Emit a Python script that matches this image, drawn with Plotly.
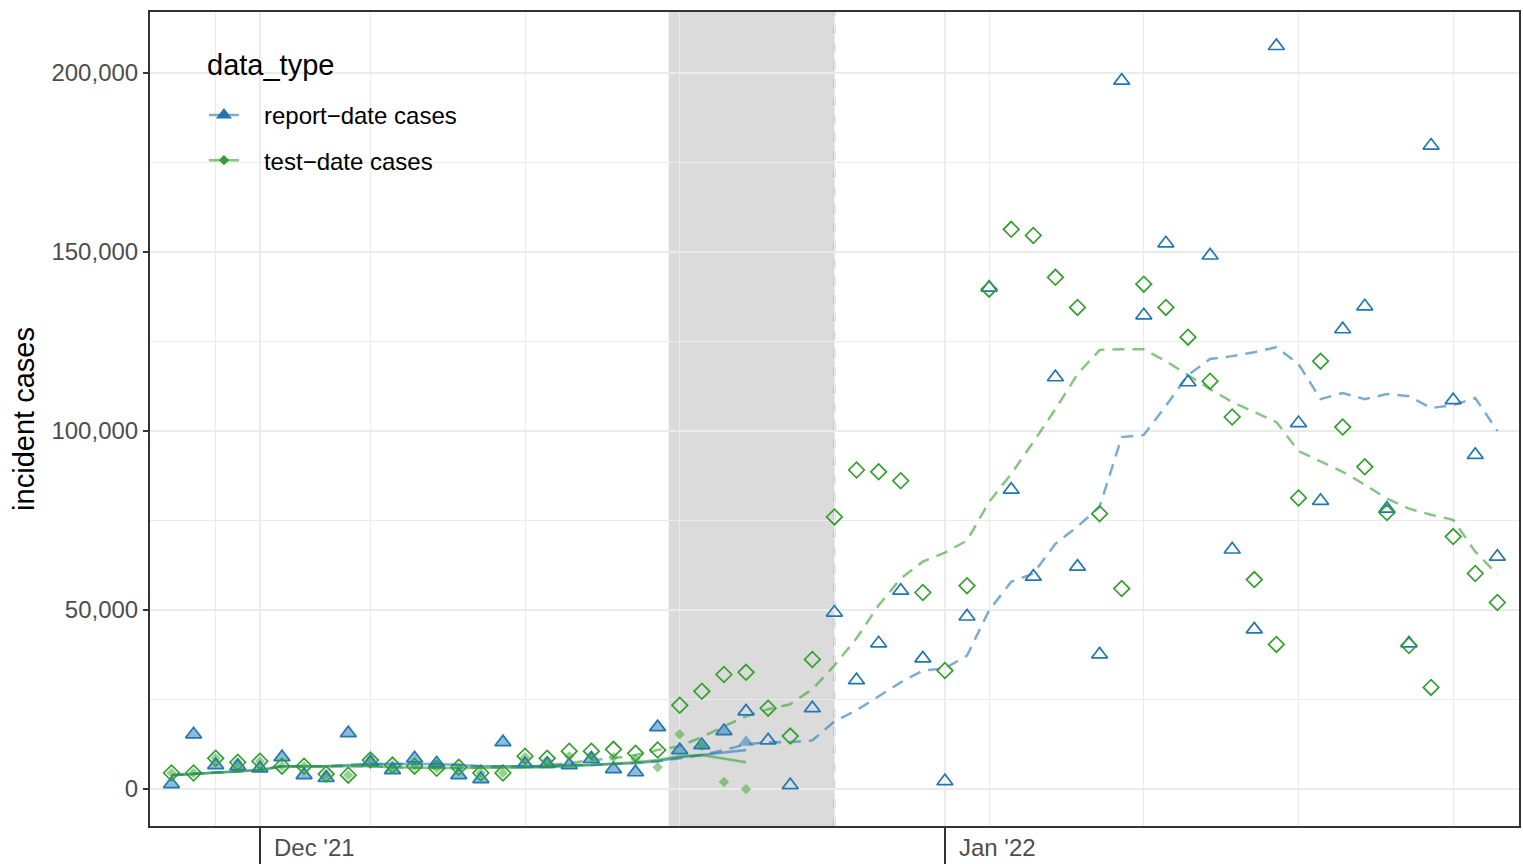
import pandas as pd
import plotly.graph_objects as go

# daily dates shown on the chart
dates = pd.date_range("2021-11-27", "2022-01-26", freq="D")
asof_dates = dates[:27]  # data available at the time (up to Dec 23)

# final (revised) counts - open markers
report_final = [1400, 15300, 6700, 6400, 5800, 8900, 3900, 3100, 15600, 7500,
                5300, 8600, 7200, 3900, 2800, 13100, 7000, 7000, 6700, 8400,
                5600, 4700, 17300, 10900, 12300, 16200, 21700, 13600, 1100, 22600,
                49300, 30400, 40700, 55400, 36500, 2200, 48200, 140000, 83600, 59300,
                115000, 62100, 37600, 197800, 132300, 152400, 113600, 149000, 66900, 44600,
                207500, 102200, 80500, 128400, 134800, 78300, 40700, 179700, 108600, 93300,
                64900]
test_final = [4500, 4500, 8600, 7500, 7800, 6400, 6400, 4200, 3900, 8100,
              6700, 6400, 5800, 6100, 4500, 4500, 9200, 8600, 10600, 10600,
              11100, 10000, 10900, 23400, 27300, 32000, 32600, 22600, 14800, 36200,
              76000, 89100, 88600, 86100, 54900, 33100, 56800, 139600, 156300, 154600,
              142900, 134500, 76900, 56000, 141000, 134500, 126200, 113900, 103900, 58500,
              40400, 81300, 119500, 101100, 90000, 77200, 40100, 28400, 70500, 60200,
              52100]

# as-of counts - filled markers
report_asof = [1400, 15300, 6700, 6400, 5800, 8900, 3900, 3100, 15600, 7500,
               5300, 8600, 7200, 3900, 2800, 13100, 7000, 7000, 6700, 8400,
               5600, 4700, 17300, 10900, 12300, 16200, 13100]
test_asof = [4500, 4500, 8600, 7500, 7800, 6400, 6400, 4200, 3900, 8100,
             6700, 6400, 5800, 6100, 4500, 4500, 8900, 8100, 9200, 9500,
             8900, 8400, 6100, 15300, 12000, 2000, 0]

# smoothed curves
report_smooth_asof = [3900, 4200, 4500, 4900, 5300, 6400, 6400, 6400, 6700, 7000,
                      7000, 7000, 7000, 6700, 6400, 6400, 6400, 6400, 6700, 6700,
                      7000, 7200, 7800, 8900, 9500, 10300, 10900]
test_smooth_asof = [3900, 4200, 4500, 4900, 5300, 6400, 6400, 6400, 6400, 6400,
                    6100, 5900, 5900, 5900, 5900, 5900, 5900, 6100, 6400, 6700,
                    7000, 7500, 8100, 9200, 9500, 8600, 7500]
report_smooth_final = [3900, 4200, 4500, 4900, 5300, 6400, 6400, 6400, 6700, 7000,
                       7000, 7000, 7000, 6700, 6400, 6400, 6400, 6400, 6700, 6700,
                       7000, 7500, 7800, 8600, 9500, 10900, 12500, 13100, 13100, 13600,
                       18900, 22000, 25900, 29800, 33100, 33700, 37300, 49900, 57900, 60200,
                       68500, 73300, 78800, 98300, 98900, 107000, 115600, 120100, 120900, 122000,
                       123400, 118700, 108900, 110600, 108900, 110300, 109700, 106400, 107200, 109200,
                       100000]
test_smooth_final = [3900, 4200, 4500, 4900, 5300, 6400, 6400, 6400, 6400, 6400,
                     6100, 5900, 5900, 5900, 5900, 5900, 6100, 6700, 7200, 8100,
                     8600, 9500, 10900, 12000, 14500, 17500, 20300, 22300, 23700, 27900,
                     34500, 42100, 51300, 58800, 63500, 66000, 69400, 80200, 88000, 96900,
                     106100, 115900, 122600, 122800, 122800, 119500, 115600, 111700, 108100, 105300,
                     102500, 94400, 91400, 88600, 85000, 81100, 78300, 76600, 75200, 66300,
                     59900]

y_ticks = [0, 50000, 100000, 150000, 200000]
y_minor = [25000, 75000, 125000, 175000]
x_ticks = ["2021-12-01", "2022-01-01"]
x_tick_labels = ["Dec '21", "Jan '22"]
series_names = ["report\u2212date cases", "test\u2212date cases"]

BLUE = "#1f78b4"
GREEN = "#33a02c"
BLUE_A = "rgba(31,120,180,0.6)"
GREEN_A = "rgba(51,160,44,0.6)"
FONT = "Liberation Sans, Arial, sans-serif"
DASH = "12px,8px"
PAD = "\u00a0" * 3

fig = go.Figure()

# dashed smoothed lines (final data)
fig.add_trace(go.Scatter(x=dates, y=report_smooth_final, mode="lines",
                         line=dict(color=BLUE_A, width=2.5, dash=DASH), showlegend=False))
fig.add_trace(go.Scatter(x=dates, y=test_smooth_final, mode="lines",
                         line=dict(color=GREEN_A, width=2.5, dash=DASH), showlegend=False))

# filled as-of points
fig.add_trace(go.Scatter(x=asof_dates, y=report_asof, mode="markers",
                         marker=dict(symbol="triangle-up", size=14, color="rgba(31,120,180,0.5)",
                                     line=dict(width=0)), showlegend=False))
fig.add_trace(go.Scatter(x=asof_dates, y=test_asof, mode="markers",
                         marker=dict(symbol="diamond", size=8, color="rgba(51,160,44,0.5)",
                                     line=dict(width=0)), showlegend=False))

# open final points
fig.add_trace(go.Scatter(x=dates, y=report_final, mode="markers",
                         marker=dict(symbol="triangle-up-open", size=14, color=BLUE,
                                     line=dict(width=1.7, color=BLUE)), showlegend=False))
fig.add_trace(go.Scatter(x=dates, y=test_final, mode="markers",
                         marker=dict(symbol="diamond-open", size=12, color=GREEN,
                                     line=dict(width=1.7, color=GREEN)), showlegend=False))

# solid smoothed lines (as-of data)
fig.add_trace(go.Scatter(x=asof_dates, y=report_smooth_asof, mode="lines",
                         line=dict(color=BLUE_A, width=2.5), showlegend=False))
fig.add_trace(go.Scatter(x=asof_dates, y=test_smooth_asof, mode="lines",
                         line=dict(color=GREEN_A, width=2.5), showlegend=False))

# legend entries
fig.add_trace(go.Scatter(x=[None], y=[None], mode="lines+markers", name=PAD + series_names[0],
                         legendgroup="a",
                         line=dict(color=BLUE_A, width=2.5),
                         marker=dict(symbol="triangle-up", size=14, color=BLUE)))
fig.add_trace(go.Scatter(x=[None], y=[None], mode="lines+markers", name=PAD + series_names[1],
                         legendgroup="b",
                         line=dict(color=GREEN_A, width=2.5),
                         marker=dict(symbol="diamond", size=8, color=GREEN)))

# shaded window and cutoff line
fig.add_shape(type="rect", xref="x", yref="paper", x0="2021-12-19 12:00", x1="2021-12-27",
              y0=0, y1=1, fillcolor="rgba(0,0,0,0.14)", line=dict(width=0), layer="between")
fig.add_shape(type="line", xref="x", yref="paper", x0="2021-12-27", x1="2021-12-27",
              y0=0, y1=1, line=dict(color="#b8b8b8", width=2, dash="dash"), layer="between")

# legend background box
fig.add_shape(type="rect", xref="paper", yref="paper", x0=0.0292, x1=0.2363, y0=0.772, y1=0.961,
              fillcolor="white", line=dict(width=0), layer="between")
fig.add_annotation(x=0.0401, y=0.935, xref="paper", yref="paper", text="data_type",
                   showarrow=False, xanchor="left", yanchor="middle",
                   font=dict(family=FONT, size=29, color="black"))

# x tick labels to the right of long ticks
for tv, tl in zip(x_ticks, x_tick_labels):
    fig.add_annotation(x=tv, y=0, xref="x", yref="paper", text=tl, showarrow=False,
                       xanchor="left", yanchor="top", xshift=12, yshift=-6,
                       font=dict(family=FONT, size=24, color="#4d4d4d"))

fig.update_layout(
    width=1523, height=864,
    margin=dict(l=150, r=2, t=12, b=36),
    paper_bgcolor="white", plot_bgcolor="white",
    font=dict(family=FONT, size=24, color="#4d4d4d"),
    showlegend=True,
    legend=dict(x=0.0394, y=0.9007, xanchor="left", yanchor="top",
                bgcolor="rgba(0,0,0,0)", borderwidth=0, tracegroupgap=11,
                font=dict(size=24, color="black")),
)

fig.update_xaxes(
    type="date",
    range=["2021-11-26 00:40", "2022-01-26 23:30"],
    tickvals=x_ticks, showticklabels=False,
    ticks="outside", ticklen=36, tickwidth=2, tickcolor="#333333",
    showgrid=True, gridcolor="#ebebeb", gridwidth=2,
    minor=dict(tick0="2021-11-29", dtick=7 * 86400000, showgrid=True,
               gridcolor="#ebebeb", gridwidth=1, ticks=""),
    showline=True, linecolor="#333333", linewidth=2, mirror=True,
    zeroline=False,
)
fig.update_yaxes(
    range=[-10306, 216990],
    tickvals=y_ticks, tickformat=",",
    ticks="outside", ticklen=5, tickwidth=1.5, tickcolor="#333333",
    tickfont=dict(size=24, color="#4d4d4d"),
    showgrid=True, gridcolor="#ebebeb", gridwidth=1.6,
    minor=dict(tickvals=y_minor, showgrid=True,
               gridcolor="#ebebeb", gridwidth=1, ticks=""),
    showline=True, linecolor="#333333", linewidth=2, mirror=True,
    zeroline=False,
    title=dict(text="incident cases", font=dict(size=29, color="black"), standoff=8),
)

# drop the default page margin so the figure fills the window exactly
fig.write_html("out.html", config={"displayModeBar": False},
               post_script="document.body.style.margin='0px';")
